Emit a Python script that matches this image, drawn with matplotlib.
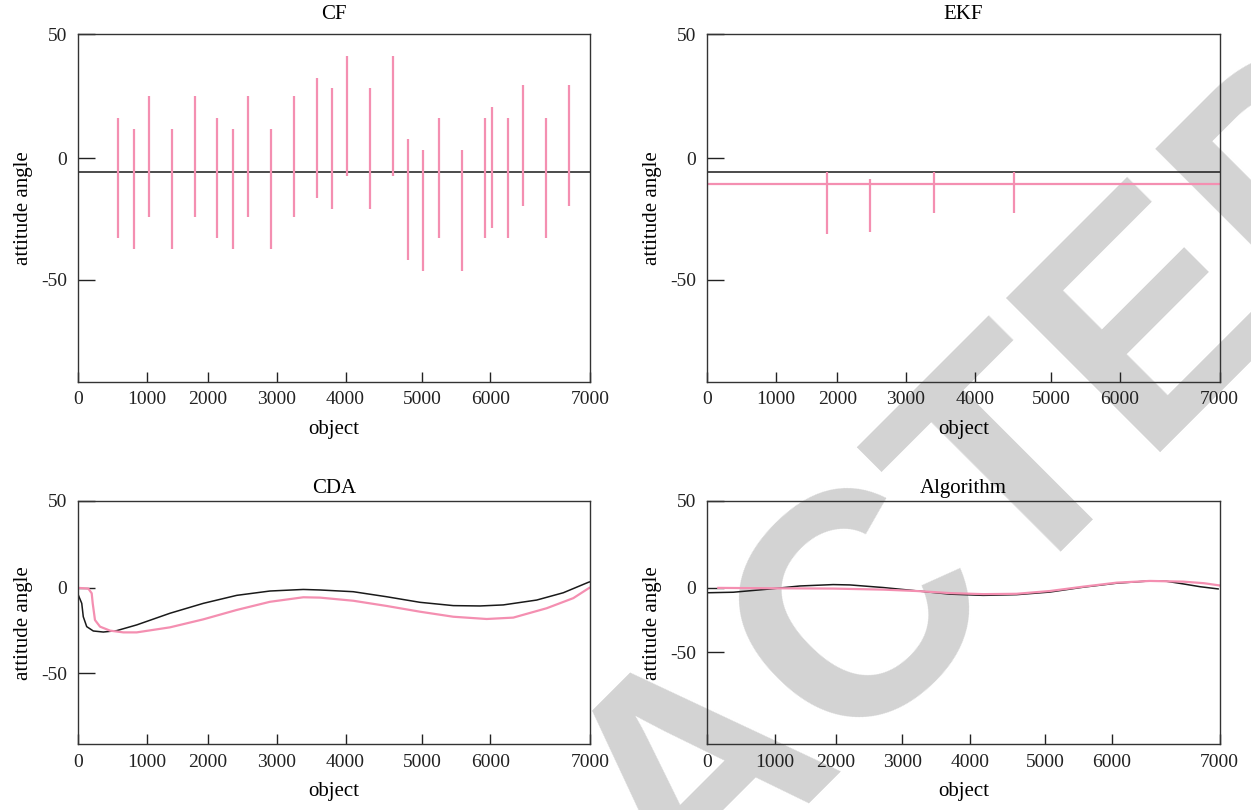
import numpy as np
import matplotlib.pyplot as plt

plt.rcParams['font.family'] = ['Liberation Serif', 'DejaVu Serif']
plt.rcParams['font.size'] = 13

PINK = '#f48fb1'
BLACK = '#1a1a1a'

# eje x dibujado a mano en el original: posiciones de las marcas
xtick_labels = ['0', '1000', '2000', '3000', '4000', '5000', '6000', '7000']
xticks_top = [0, 940, 1775, 2712, 3657, 4700, 5636, 7000]
xticks_alg = [0, 925, 1754, 2667, 3585, 4619, 5531, 7000]
ytick_labels = ['50', '0', '-50']
yticks_std = [50, 0, -49]
yticks_alg = [50, 0, -37]

# CF
cf_ref = -5.7
cf_x = [546, 757, 963, 1276, 1590, 1904, 2115, 2326, 2640, 2948, 3262, 3467, 3678,
        3992, 4305, 4512, 4722, 4933, 5246, 5561, 5664, 5874, 6079, 6394, 6707]
cf_top = [16.4, 12.0, 25.2, 12.0, 25.2, 16.4, 12.0, 25.2, 12.0, 25.2, 32.5, 28.3, 41.4,
          28.3, 41.4, 7.7, 3.3, 16.4, 3.3, 16.4, 20.7, 16.4, 29.5, 16.4, 29.5]
cf_bot = [-32.3, -36.7, -23.6, -36.7, -23.6, -32.3, -36.7, -23.6, -36.7, -23.6, -15.9, -20.5, -7.2,
          -20.5, -7.2, -41.0, -45.3, -32.3, -45.3, -32.3, -27.9, -32.3, -19.1, -32.3, -19.1]

# EKF
ekf_ref = -5.7
ekf_level = -10.4
ekf_x = [1633, 2221, 3095, 4195]
ekf_top = [-5.7, -8.5, -5.7, -5.7]
ekf_bot = [-30.7, -29.9, -22.2, -22.2]

# CDA
cda_ref_x = [0, 47, 68, 115, 205, 342, 525, 799, 1254, 1710, 2167, 2622, 3078, 3306,
             3762, 4219, 4674, 5130, 5495, 5814, 6271, 6635, 6977, 7000]
cda_ref_y = [-4.1, -8.9, -16.6, -22.3, -24.8, -25.4, -24.6, -21.3, -14.6, -8.9, -4.3, -1.8,
             -0.9, -1.2, -2.2, -5.1, -8.3, -10.2, -10.4, -9.8, -7.0, -2.8, 3.2, 3.5]
cda_est_x = [0, 137, 183, 197, 228, 297, 434, 616, 799, 1254, 1710, 2167, 2622, 3078, 3306,
             3762, 4219, 4674, 5130, 5587, 5951, 6408, 6772, 6990]
cda_est_y = [0, -0.4, -3.1, -8.9, -18.5, -22.3, -24.6, -25.6, -25.6, -22.7, -18.1, -12.7,
             -8.0, -5.4, -5.6, -7.4, -10.4, -13.7, -16.6, -17.9, -17.1, -11.7, -5.9, 0]

# Algorithm
alg_ref_x = [0, 355, 811, 1266, 1721, 1949, 2404, 2860, 3315, 3770, 4226, 4681, 5136,
             5592, 6047, 6275, 6502, 6730, 6980]
alg_ref_y = [-2.8, -2.5, -0.8, 1.1, 1.9, 1.7, 0.2, -1.7, -3.6, -4.3, -3.9, -2.4, 0.4,
             2.7, 4.0, 3.8, 2.3, 0.7, -0.6]
alg_est_x = [150, 811, 1721, 2404, 2860, 3315, 3770, 4226, 4681, 5136, 5592, 6047, 6502, 6785, 7000]
alg_est_y = [0, -0.2, -0.4, -1.0, -1.8, -3.0, -3.6, -3.4, -1.8, 0.7, 3.0, 4.0, 3.6, 2.7, 1.4]


def preparar(ax, titulo, xticks, yticks, pad_titulo):
    ax.set_facecolor('none')
    ax.set_xlim(0, 7000)
    ax.set_ylim(-90, 50)
    ax.set_xticks(xticks)
    ax.set_xticklabels(xtick_labels)
    ax.set_yticks(yticks)
    ax.set_yticklabels(ytick_labels)
    ax.tick_params(axis='x', direction='in', length=7, width=1.0, pad=7,
                   colors='#222222', labelsize=14)
    ax.tick_params(axis='y', direction='in', length=12, width=1.0, pad=8,
                   colors='#222222', labelsize=14)
    for s in ax.spines.values():
        s.set_linewidth(1.0)
        s.set_color('#333333')
    ax.set_title(titulo, pad=pad_titulo, fontsize=15)
    ax.set_xlabel('object', labelpad=8, fontsize=15)
    ax.set_ylabel('attitude angle', labelpad=6, fontsize=15)


fig = plt.figure(figsize=(12.51, 8.10), dpi=100)
# marca de agua gris que cruza la figura
fig.text(0.663, 0.059, 'REDACTED', rotation=45, rotation_mode='anchor', fontsize=228,
         color='#d3d3d3', family='Liberation Sans', weight='bold',
         ha='center', va='baseline', zorder=-1)

ax1 = fig.add_axes([0.0626, 0.5288, 0.409, 0.429])
ax2 = fig.add_axes([0.5654, 0.5288, 0.4095, 0.429])
ax3 = fig.add_axes([0.0626, 0.0811, 0.409, 0.3004])
ax4 = fig.add_axes([0.5654, 0.0811, 0.4095, 0.3004])

preparar(ax1, 'CF', xticks_top, yticks_std, 11)
ax1.axhline(cf_ref, color=BLACK, lw=1.1)
ax1.vlines(cf_x, cf_bot, cf_top, color=PINK, lw=1.6)

preparar(ax2, 'EKF', xticks_top, yticks_std, 11)
ax2.axhline(ekf_ref, color=BLACK, lw=1.1)
ax2.axhline(ekf_level, color=PINK, lw=1.6)
ax2.vlines(ekf_x, ekf_bot, ekf_top, color=PINK, lw=1.6)

preparar(ax3, 'CDA', xticks_top, yticks_std, 6)
ax3.plot(cda_ref_x, cda_ref_y, color=BLACK, lw=1.1)
ax3.plot(cda_est_x, cda_est_y, color=PINK, lw=1.6)

preparar(ax4, 'Algorithm', xticks_alg, yticks_alg, 6)
ax4.plot(alg_ref_x, alg_ref_y, color=BLACK, lw=1.1)
ax4.plot(alg_est_x, alg_est_y, color=PINK, lw=1.6)

fig.savefig('out.png', dpi=100)
